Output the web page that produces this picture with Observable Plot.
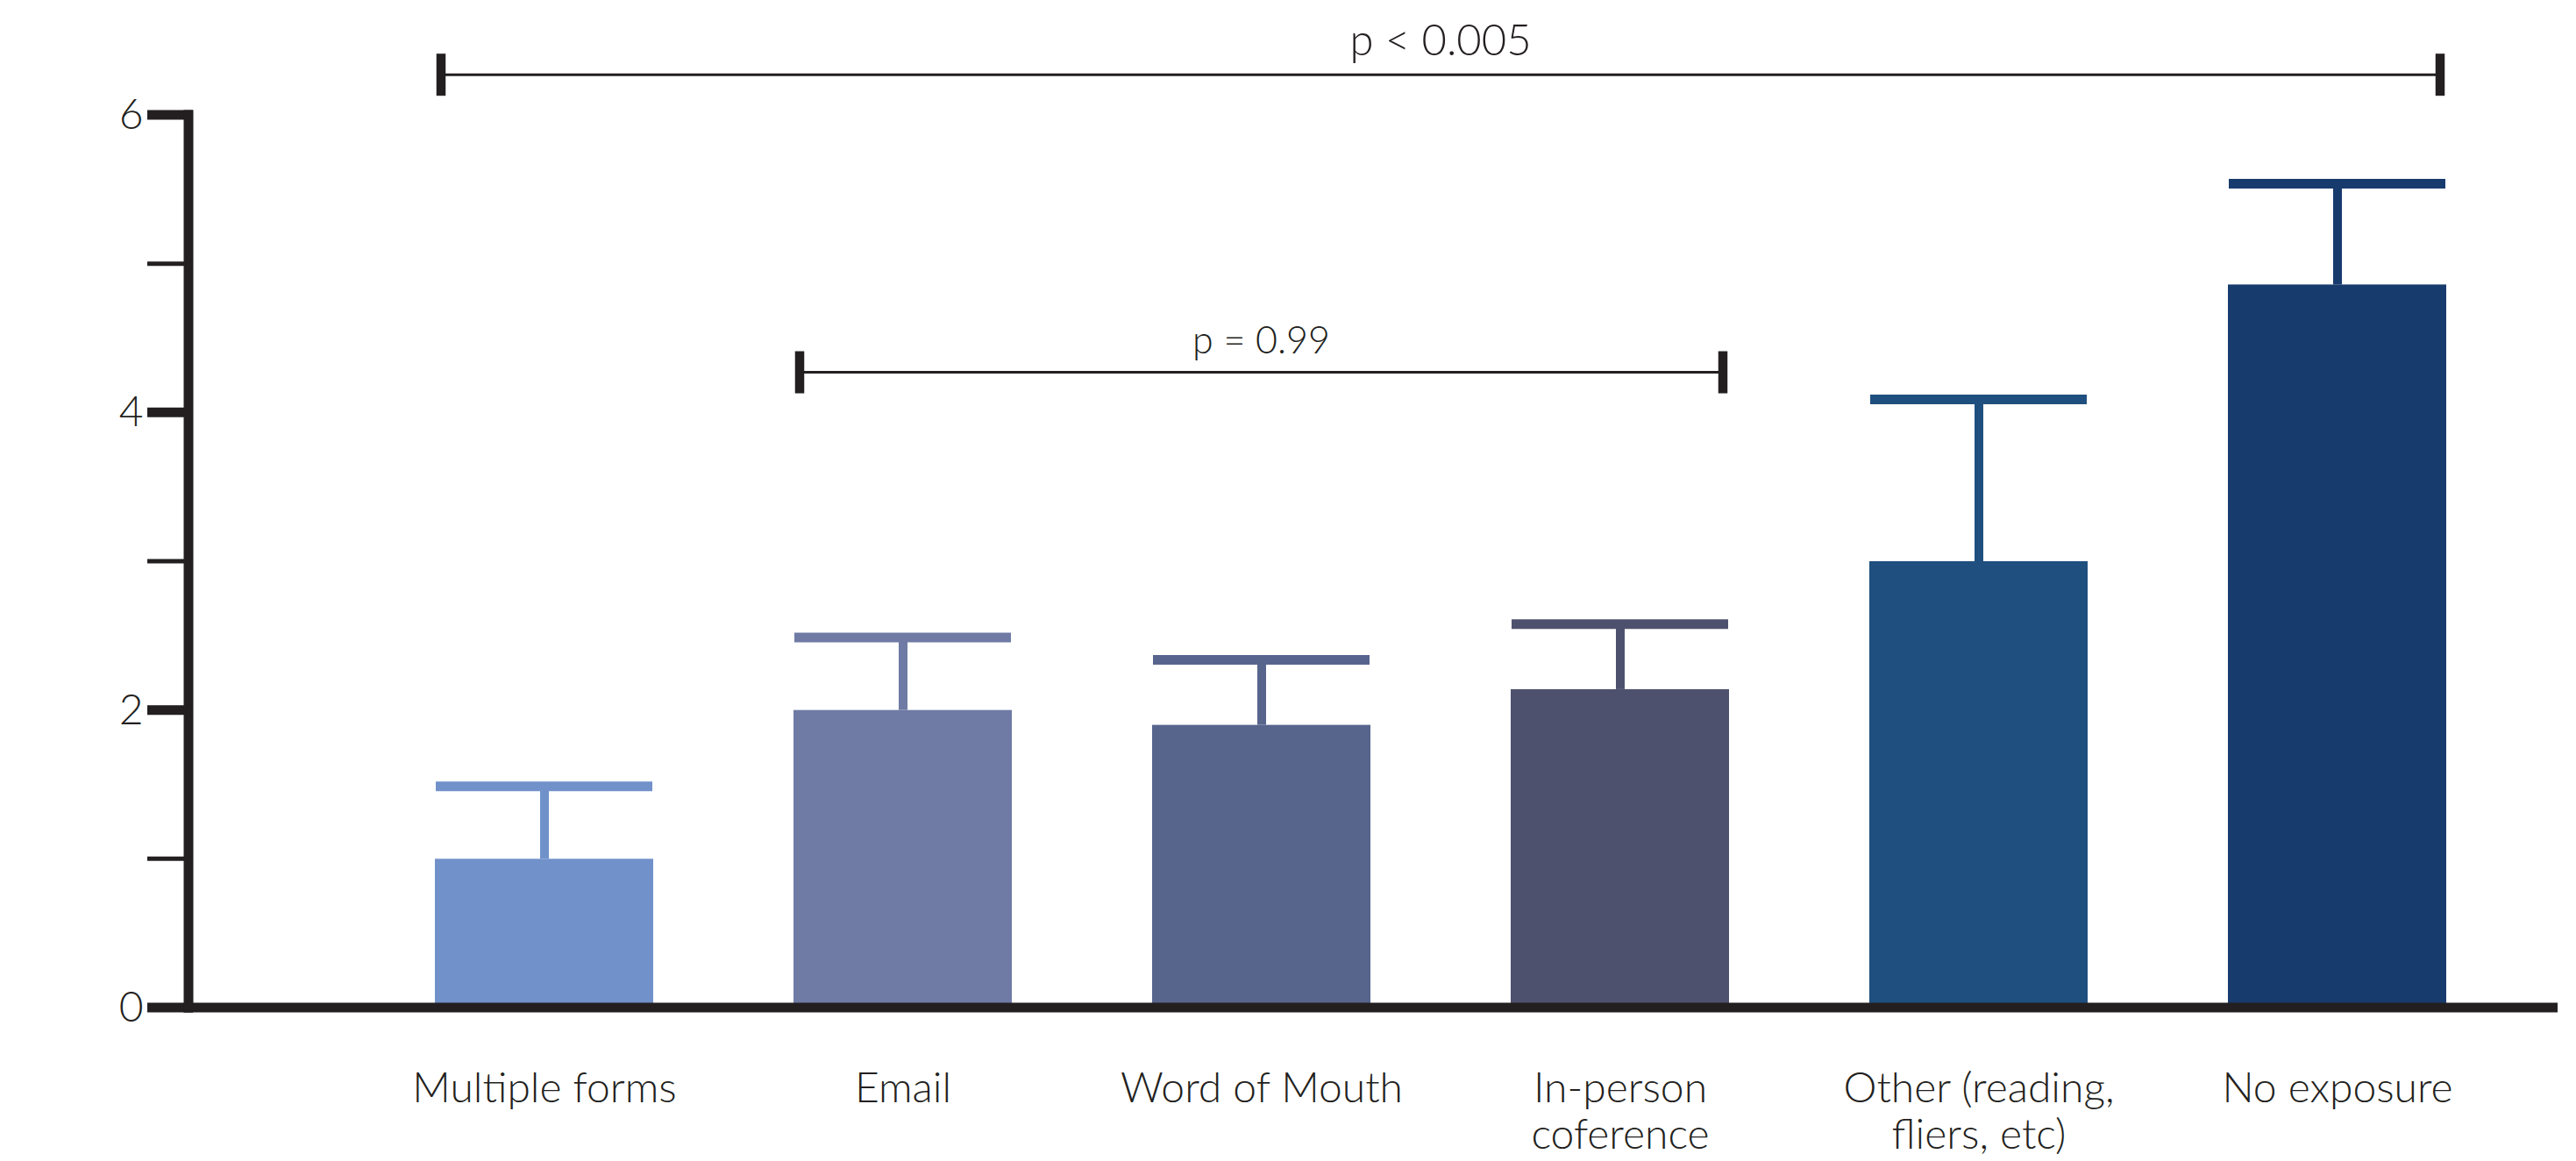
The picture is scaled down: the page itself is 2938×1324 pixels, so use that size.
<!DOCTYPE html>
<html>
<head>
<meta charset="utf-8">
<script src="https://cdn.jsdelivr.net/npm/d3@7"></script>
<script src="https://cdn.jsdelivr.net/npm/@observablehq/plot@0.6"></script>
<style>
  html, body { margin: 0; padding: 0; background: #ffffff; }
  #chart svg { display: block; }
</style>
</head>
<body>
<div id="chart"></div>
<script>
// ---- data ----
const categories = ["Multiple forms", "Email", "Word of Mouth", "In-person\ncoference", "Other (reading,\nfliers, etc)", "No exposure"];
const means = [1.0, 2.0, 1.9, 2.14, 3.0, 4.86];
const upperErrors = [1.49, 2.49, 2.34, 2.58, 4.09, 5.54];
const barColors = ["#7091ca", "#6f7ba5", "#57658d", "#4e516e", "#1f4f7f", "#183b6e"];
const yTicks = [0, 1, 2, 3, 4, 5, 6];
const yTickLabels = ["0", "", "2", "", "4", "", "6"];
const bracketFrom = ["Multiple forms", "Email"];
const bracketTo = ["No exposure", "In-person\ncoference"];
const bracketY = [6.27, 4.27];
const bracketLabelY = [6.40, 4.395];
const bracketLabels = ["p < 0.005", "p = 0.99"];

const ink = "#231f20";
const data = categories.map((c, i) => ({cat: c, mean: means[i], upper: upperErrors[i]}));
const ticks = yTicks.map((t, i) => ({t, label: yTickLabels[i]}));
const brackets = bracketFrom.map((f, i) => ({from: f, to: bracketTo[i], y: bracketY[i], ly: bracketLabelY[i], label: bracketLabels[i]}));
const bracketFontSizes = [49, 43];

// custom mark: axis lines, tick marks and significance brackets, drawn with the plot's scales
function axesAndBrackets(index, scales, values, dims) {
  const x = scales.x, y = scales.y;
  const g = d3.create("svg:g");
  const left = dims.marginLeft;
  const right = dims.width - dims.marginRight;
  for (const d of ticks) {
    const major = d.label !== "";
    g.append("line")
      .attr("x1", left - 47).attr("x2", left + 5)
      .attr("y1", y(d.t)).attr("y2", y(d.t))
      .attr("stroke", ink).attr("stroke-width", major ? 11 : 5);
  }
  g.append("line")
    .attr("x1", left).attr("x2", left)
    .attr("y1", y(6) - 5.5).attr("y2", y(0) + 5.5)
    .attr("stroke", ink).attr("stroke-width", 11);
  g.append("line")
    .attr("x1", left - 5.5).attr("x2", right)
    .attr("y1", y(0)).attr("y2", y(0))
    .attr("stroke", ink).attr("stroke-width", 11);
  const bw = x.bandwidth ? x.bandwidth() : 0;
  brackets.forEach((b, i) => {
    const x1 = x(b.from) + 7;
    const x2 = x(b.to) + bw - 7;
    const yy = y(b.y);
    g.append("line").attr("x1", x1).attr("x2", x2).attr("y1", yy).attr("y2", yy)
      .attr("stroke", ink).attr("stroke-width", 3);
    for (const xx of [x1, x2]) {
      g.append("line").attr("x1", xx).attr("x2", xx).attr("y1", yy - 24).attr("y2", yy + 24)
        .attr("stroke", ink).attr("stroke-width", 10.5);
    }
    g.append("text")
      .attr("x", (x(b.from) + x(b.to) + bw) / 2)
      .attr("y", y(b.ly))
      .attr("text-anchor", "middle")
      .attr("fill", ink)
      .attr("font-size", bracketFontSizes[i])
      .attr("font-weight", 300)
      .text(b.label);
  });
  return g.node();
}

const chart = Plot.plot({
  width: 2938,
  height: 1324,
  marginLeft: 215,
  marginRight: 21,
  marginTop: 131,
  marginBottom: 175,
  style: {fontFamily: "Lato, 'Noto Sans', sans-serif", background: "#ffffff", color: ink},
  x: {domain: categories, paddingInner: 0.391, paddingOuter: 0.494, align: 0.69, axis: null},
  y: {domain: [0, 6], axis: null},
  color: {domain: categories, range: barColors},
  marks: [
    Plot.barY(data, {x: "cat", y: "mean", fill: "cat"}),
    Plot.ruleX(data, {x: "cat", y1: "mean", y2: "upper", stroke: "cat", strokeWidth: 10}),
    Plot.tickY(data, {x: "cat", y: "upper", stroke: "cat", strokeWidth: 11, insetLeft: 1, insetRight: 1}),
    Plot.text(ticks, {y: "t", text: "label", frameAnchor: "left", textAnchor: "end", dx: -52, fontSize: 48, fontWeight: 300, fill: ink}),
    Plot.text(data, {x: "cat", text: "cat", frameAnchor: "bottom", lineAnchor: "top", dy: 69, fontSize: 48, fontWeight: 300, lineHeight: 1.12, fill: ink}),
    axesAndBrackets
  ]
});
document.getElementById("chart").appendChild(chart);
</script>
</body>
</html>
